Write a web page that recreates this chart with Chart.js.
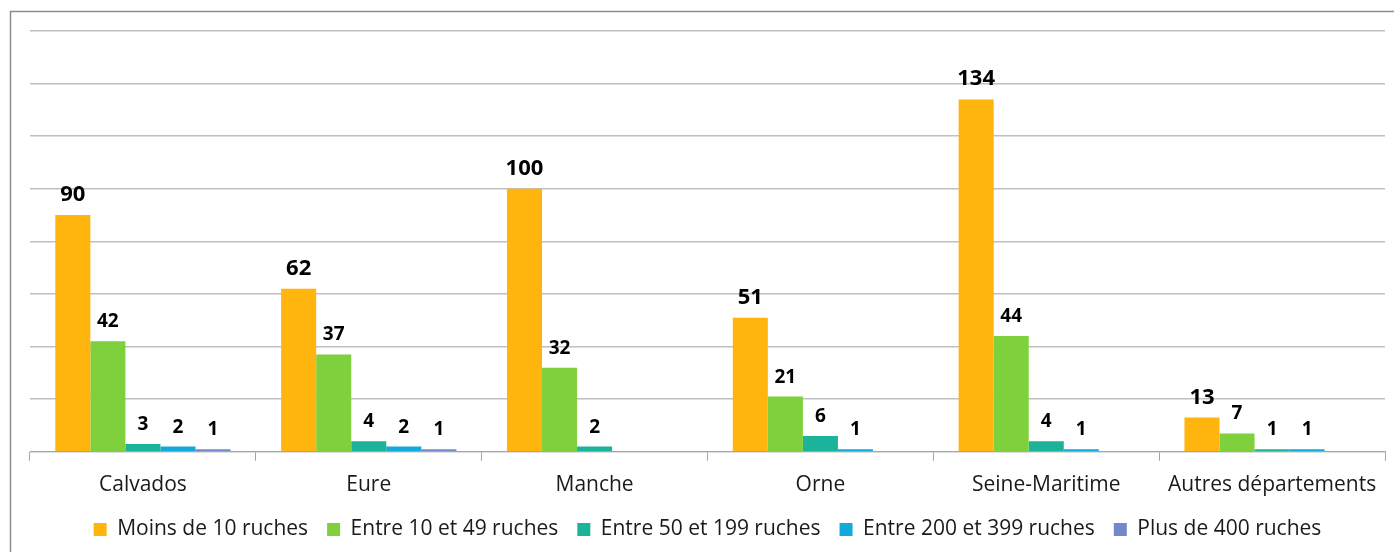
<!DOCTYPE html>
<html>
<head>
<meta charset="utf-8">
<script src="https://cdn.jsdelivr.net/npm/chart.js@4/dist/chart.umd.min.js"></script>
<style>
    html, body { margin: 0; padding: 0; background: #fff; }
    #wrap { position: relative; width: 1394px; height: 552px; }
</style>
</head>
<body>
<div id="wrap"><canvas id="ruchesChart" width="1394" height="552"></canvas></div>
<script>
// Données
const departements = ["Calvados", "Eure", "Manche", "Orne", "Seine-Maritime", "Autres départements"];
const moins10 = [90, 62, 100, 51, 134, 13];
const entre10et49 = [42, 37, 32, 21, 44, 7];
const entre50et199 = [3, 4, 2, 6, 4, 1];
const entre200et399 = [2, 2, null, 1, 1, 1];
const plus400 = [1, 1, null, null, null, null];
const yTicks = [0, 20, 40, 60, 80, 100, 120, 140, 160];

const FONT = "'Open Sans', sans-serif";

// cadre autour du graphique
const framePlugin = {
    id: "frame",
    beforeDraw(chart) {
        const ctx = chart.ctx;
        ctx.save();
        ctx.strokeStyle = "#8c8c8c";
        ctx.lineWidth = 1.5;
        ctx.strokeRect(10.5, 11.5, 1400, 600);
        ctx.restore();
    }
};

// étiquettes de valeurs au-dessus des barres
const labelsPlugin = {
    id: "valueLabels",
    afterDatasetsDraw(chart) {
        const ctx = chart.ctx;
        ctx.save();
        ctx.fillStyle = "#000";
        ctx.textAlign = "center";
        ctx.textBaseline = "alphabetic";
        chart.data.datasets.forEach((ds, i) => {
            const meta = chart.getDatasetMeta(i);
            ctx.font = (i === 0 ? "bold 22px " : "bold 19px ") + FONT;
            meta.data.forEach((bar, j) => {
                const v = ds.data[j];
                if (v === null || v === undefined) return;
                ctx.fillText(String(v), bar.x, bar.y - 14);
            });
        });
        ctx.restore();
    }
};

new Chart(document.getElementById("ruchesChart").getContext("2d"), {
    type: "bar",
    data: {
        labels: departements,
        datasets: [
            { label: "Moins de 10 ruches", data: moins10, backgroundColor: "#FFB40E" },
            { label: "Entre 10 et 49 ruches", data: entre10et49, backgroundColor: "#7ED03C" },
            { label: "Entre 50 et 199 ruches", data: entre50et199, backgroundColor: "#1CB39B" },
            { label: "Entre 200 et 399 ruches", data: entre200et399, backgroundColor: "#12A9DB" },
            { label: "Plus de 400 ruches", data: plus400, backgroundColor: "#7388C9" }
        ]
    },
    options: {
        responsive: false,
        animation: false,
        layout: { padding: { left: 30, right: 9, top: 31, bottom: 2 } },
        datasets: {
            bar: { categoryPercentage: 0.776, barPercentage: 1.0 }
        },
        plugins: {
            legend: {
                position: "bottom",
                labels: {
                    font: { family: FONT, size: 21 },
                    color: "#1a1a1a",
                    boxWidth: 13,
                    boxHeight: 13,
                    padding: 19
                }
            },
            tooltip: { enabled: false }
        },
        scales: {
            x: {
                afterFit(axis) {
                    axis.height -= 10;
                },
                grid: {
                    display: true,
                    drawOnChartArea: false,
                    drawTicks: true,
                    tickLength: 9,
                    color: "#a6a6a6",
                    offset: true
                },
                border: { display: true, color: "#a6a6a6", width: 1 },
                ticks: {
                    font: { family: FONT, size: 21 },
                    color: "#1a1a1a",
                    padding: 12,
                    maxRotation: 0,
                    autoSkip: false
                }
            },
            y: {
                min: 0,
                max: 160,
                afterBuildTicks(axis) {
                    axis.ticks = yTicks.map(v => ({ value: v }));
                },
                ticks: { display: false },
                grid: { color: "#bfbfbf", lineWidth: 1.5, drawTicks: false },
                border: { display: false }
            }
        }
    },
    plugins: [framePlugin, labelsPlugin]
});
</script>
</body>
</html>
